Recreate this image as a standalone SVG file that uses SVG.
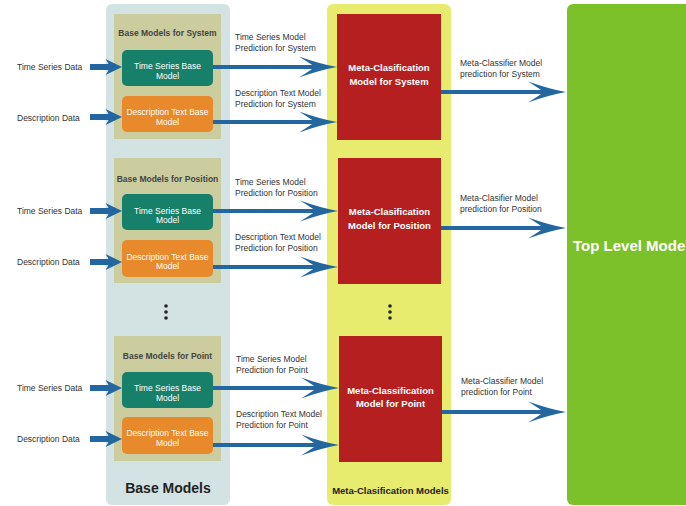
<svg xmlns="http://www.w3.org/2000/svg" width="686" height="506" viewBox="0 0 686 506">
  <style>
    text { font-family: "Liberation Sans", Arial, sans-serif; }
    .panel-base { fill: #d3e2e2; }
    .panel-meta { fill: #e7ec6e; }
    .panel-top { fill: #7cc129; }
    .group-box { fill: #cbcd9f; }
    .ts-box { fill: #17806a; }
    .dt-box { fill: #e8892b; }
    .meta-box { fill: #b51f1f; }
    .lbl { font-size: 8.5px; fill: #333; }
    .grp-title { font-size: 8.5px; font-weight: bold; fill: #444; text-anchor: middle; }
    .box-txt { font-size: 8.5px; fill: #ffffff; text-anchor: middle; }
    .meta-txt { font-size: 9.5px; font-weight: bold; fill: #ffffff; text-anchor: middle; }
    .in-arrow { stroke: #2366a0; stroke-width: 6; fill: none; marker-end: url(#headS); }
    .arrow { stroke: #2366a0; stroke-width: 4; fill: none; marker-end: url(#headL); }
    .dot { fill: #222; }
  </style>
  <defs>
    <!-- small arrowhead for the data inputs -->
    <marker id="headS" markerUnits="userSpaceOnUse" viewBox="-4 -9 18 18" markerWidth="18" markerHeight="18" refX="0" refY="0" orient="auto">
      <path d="M13,0 L-3.5,-8 Q0,-4 0,0 Q0,4 -3.5,8 Z" fill="#2366a0"/>
    </marker>
    <!-- swept arrowhead for model predictions -->
    <marker id="headL" markerUnits="userSpaceOnUse" viewBox="-17 -11 40 22" markerWidth="40" markerHeight="22" refX="0" refY="0" orient="auto">
      <path d="M22,0 Q5,-3 -16,-10.5 Q-4,-3 0,0 Q-4,3 -16,10.5 Q5,3 22,0 Z" fill="#2366a0"/>
    </marker>
  </defs>

  <!-- column backgrounds -->
  <g id="base-models">
    <rect class="panel-base" x="106" y="4" width="124" height="501" rx="6"/>
    <text x="168" y="493" font-size="14" font-weight="bold" fill="#222" text-anchor="middle">Base Models</text>
    <circle class="dot" cx="166" cy="306" r="1.8"/>
    <circle class="dot" cx="166" cy="312" r="1.8"/>
    <circle class="dot" cx="166" cy="318" r="1.8"/>
  </g>
  <g id="meta-models">
    <rect class="panel-meta" x="327" y="4" width="124" height="501" rx="6"/>
    <text x="390.5" y="494" font-size="9.5" font-weight="bold" fill="#222" text-anchor="middle">Meta-Clasification Models</text>
    <circle class="dot" cx="390" cy="306" r="1.8"/>
    <circle class="dot" cx="390" cy="312" r="1.8"/>
    <circle class="dot" cx="390" cy="318" r="1.8"/>
  </g>
  <g id="top-level-model">
    <rect class="panel-top" x="567" y="4" width="130" height="501" rx="6"/>
    <text x="573" y="250.5" font-size="15" font-weight="bold" fill="#ffffff">Top Level Model</text>
  </g>

  <!-- System -->
  <g id="base-system">
    <rect class="group-box" x="114" y="14" width="107" height="125"/>
    <text class="grp-title" x="167.5" y="36">Base Models for System</text>
  </g>
  <g id="ts-system">
    <rect class="ts-box" x="122" y="50" width="91" height="36" rx="5"/>
    <text class="box-txt" x="167.5" y="69">Time Series Base</text>
    <text class="box-txt" x="167.5" y="78.5">Model</text>
  </g>
  <g id="dt-system">
    <rect class="dt-box" x="122" y="96" width="91" height="36" rx="5"/>
    <text class="box-txt" x="167.5" y="115">Description Text Base</text>
    <text class="box-txt" x="167.5" y="124.5">Model</text>
  </g>
  <g id="meta-system">
    <rect class="meta-box" x="337" y="14" width="104" height="126"/>
    <text class="meta-txt" x="389" y="70.5">Meta-Clasification</text>
    <text class="meta-txt" x="389" y="84.5">Model for System</text>
  </g>

  <!-- Position -->
  <g id="base-position">
    <rect class="group-box" x="114" y="158" width="107" height="125"/>
    <text class="grp-title" x="167.5" y="182">Base Models for Position</text>
  </g>
  <g id="ts-position">
    <rect class="ts-box" x="122" y="194" width="91" height="36" rx="5"/>
    <text class="box-txt" x="167.5" y="213.5">Time Series Base</text>
    <text class="box-txt" x="167.5" y="223">Model</text>
  </g>
  <g id="dt-position">
    <rect class="dt-box" x="122" y="240" width="91" height="37" rx="5"/>
    <text class="box-txt" x="167.5" y="259.5">Description Text Base</text>
    <text class="box-txt" x="167.5" y="269">Model</text>
  </g>
  <g id="meta-position">
    <rect class="meta-box" x="338" y="158" width="103" height="126"/>
    <text class="meta-txt" x="389.5" y="215">Meta-Clasification</text>
    <text class="meta-txt" x="389.5" y="229">Model for Position</text>
  </g>

  <!-- Point -->
  <g id="base-point">
    <rect class="group-box" x="114" y="336" width="107" height="125"/>
    <text class="grp-title" x="167.5" y="359">Base Models for Point</text>
  </g>
  <g id="ts-point">
    <rect class="ts-box" x="122" y="372" width="91" height="36" rx="5"/>
    <text class="box-txt" x="167.5" y="391">Time Series Base</text>
    <text class="box-txt" x="167.5" y="400.5">Model</text>
  </g>
  <g id="dt-point">
    <rect class="dt-box" x="122" y="417" width="91" height="37" rx="5"/>
    <text class="box-txt" x="167.5" y="436">Description Text Base</text>
    <text class="box-txt" x="167.5" y="445.5">Model</text>
  </g>
  <g id="meta-point">
    <rect class="meta-box" x="339" y="336" width="103" height="126"/>
    <text class="meta-txt" x="390.5" y="393.5">Meta-Classification</text>
    <text class="meta-txt" x="390.5" y="407">Model for Point</text>
  </g>

  <!-- input labels -->
  <g id="inputs">
    <text class="lbl" x="17" y="70">Time Series Data</text>
    <text class="lbl" x="17" y="120.5">Description Data</text>
    <text class="lbl" x="17" y="214">Time Series Data</text>
    <text class="lbl" x="17" y="265">Description Data</text>
    <text class="lbl" x="17" y="391">Time Series Data</text>
    <text class="lbl" x="17" y="442">Description Data</text>
  </g>

  <!-- connectors -->
  <g id="connectors">
    <line class="in-arrow" x1="90" y1="67" x2="109" y2="67"/>
    <line class="in-arrow" x1="90" y1="117" x2="109" y2="117"/>
    <line class="in-arrow" x1="90" y1="211" x2="109" y2="211"/>
    <line class="in-arrow" x1="90" y1="262" x2="109" y2="262"/>
    <line class="in-arrow" x1="90" y1="388" x2="109" y2="388"/>
    <line class="in-arrow" x1="90" y1="439" x2="109" y2="439"/>

    <line class="arrow" x1="213" y1="67" x2="315" y2="67"/>
    <line class="arrow" x1="213" y1="122" x2="315" y2="122"/>
    <line class="arrow" x1="213" y1="211" x2="316" y2="211"/>
    <line class="arrow" x1="213" y1="267" x2="316" y2="267"/>
    <line class="arrow" x1="213" y1="388" x2="317" y2="388"/>
    <line class="arrow" x1="213" y1="445" x2="317" y2="445"/>

    <line class="arrow" x1="441" y1="92" x2="544" y2="92"/>
    <line class="arrow" x1="441" y1="228" x2="544" y2="228"/>
    <line class="arrow" x1="442" y1="412" x2="544" y2="412"/>
  </g>

  <!-- connector labels -->
  <g id="connector-labels">
    <text class="lbl" x="235" y="40">Time Series Model</text>
    <text class="lbl" x="235" y="51">Prediction for System</text>
    <text class="lbl" x="235" y="96">Description Text Model</text>
    <text class="lbl" x="235" y="107">Prediction for System</text>

    <text class="lbl" x="235" y="185">Time Series Model</text>
    <text class="lbl" x="235" y="196">Prediction for Position</text>
    <text class="lbl" x="235" y="240">Description Text Model</text>
    <text class="lbl" x="235" y="251">Prediction for Position</text>

    <text class="lbl" x="236" y="362">Time Series Model</text>
    <text class="lbl" x="236" y="373">Prediction for Point</text>
    <text class="lbl" x="236" y="417">Description Text Model</text>
    <text class="lbl" x="236" y="428">Prediction for Point</text>

    <text class="lbl" x="460" y="66">Meta-Classifier Model</text>
    <text class="lbl" x="460" y="77">prediction for System</text>
    <text class="lbl" x="460" y="201">Meta-Clasifier Model</text>
    <text class="lbl" x="460" y="212">prediction for Position</text>
    <text class="lbl" x="461" y="384">Meta-Classifier Model</text>
    <text class="lbl" x="461" y="395">prediction for Point</text>
  </g>
</svg>
